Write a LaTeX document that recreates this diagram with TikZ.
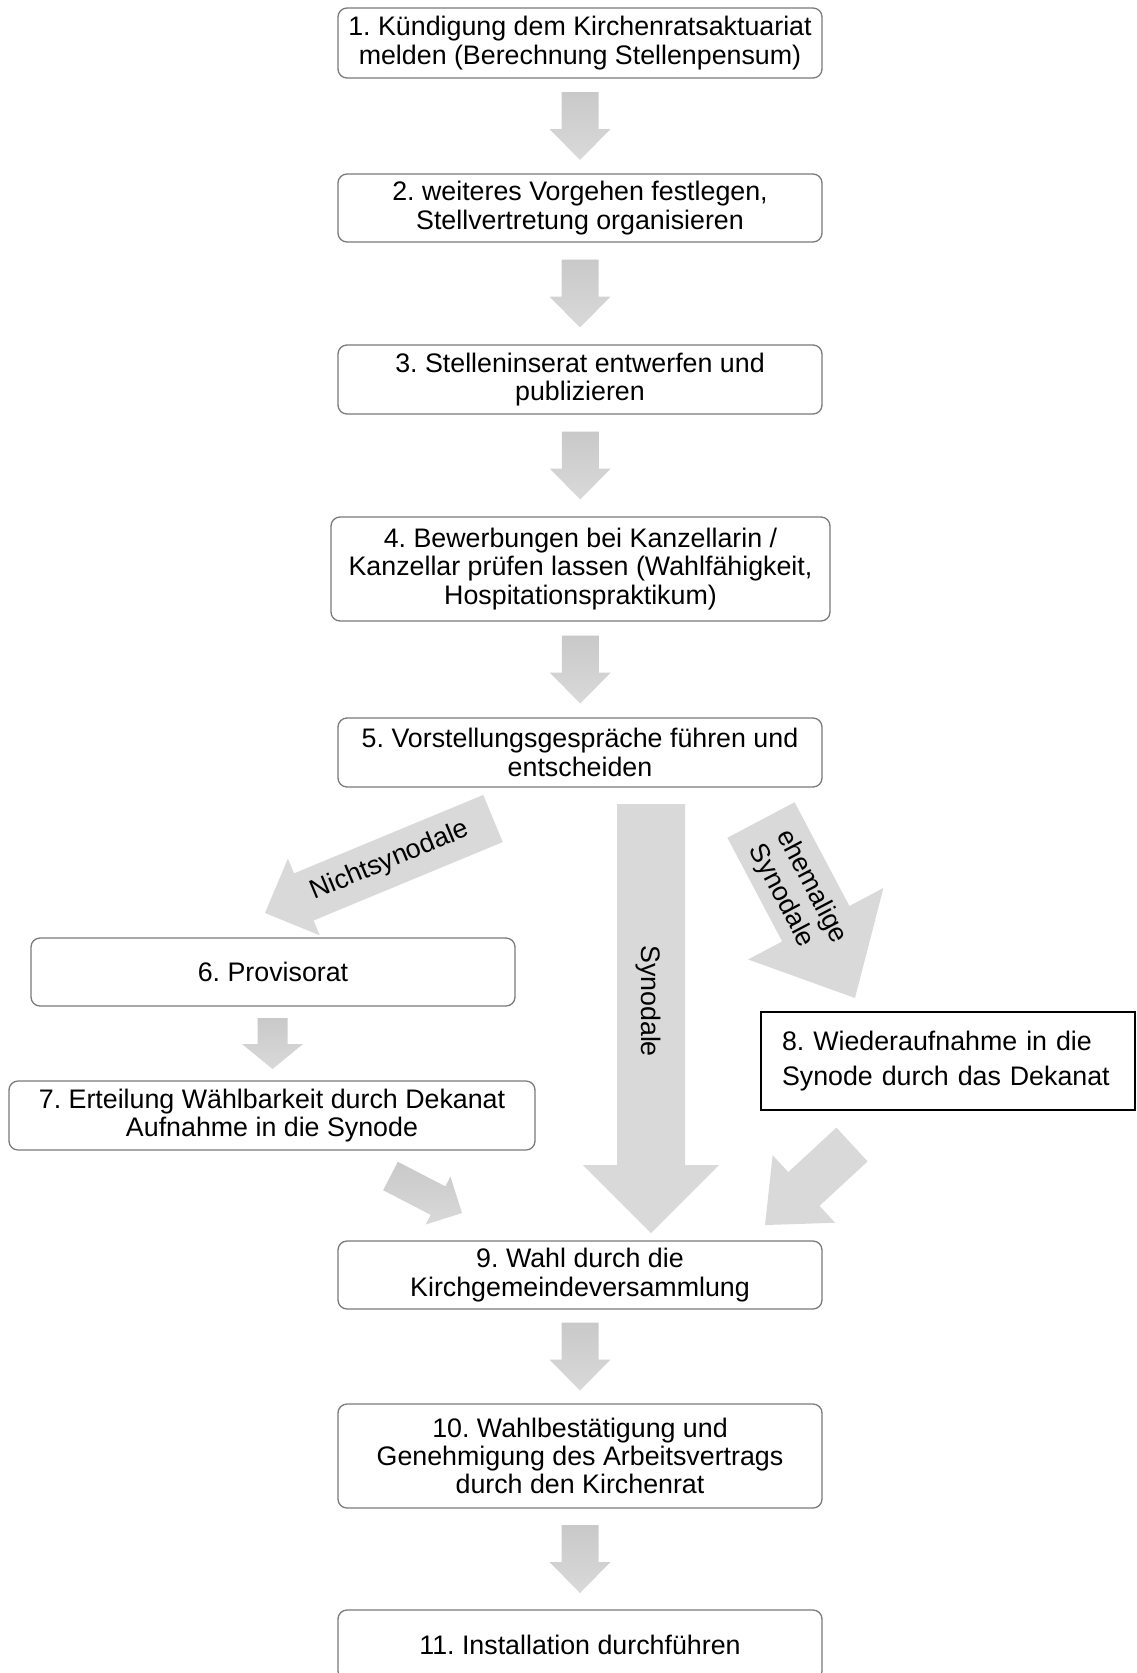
\documentclass[tikz,border=0pt]{standalone}
\usepackage{fontspec}
\setmainfont{Liberation Sans}
\usetikzlibrary{calc}
\definecolor{boxline}{HTML}{7A7A7A}
\definecolor{arrowtop}{HTML}{C9C9C9}
\definecolor{arrowbot}{HTML}{D9D9D9}
\definecolor{bigarrow}{HTML}{D9D9D9}
\frenchspacing

% block arrow: [style]{name}{from}{to}{shaft half width}{head half width}{head length}
\newcommand\blockarrow[7][]{%
  \coordinate (#2-h) at ($(#4)!#7pt!(#3)$);
  \path[#1] ($(#3)!#5pt!90:(#4)$) -- ($(#2-h)!#5pt!90:(#4)$) -- ($(#2-h)!#6pt!90:(#4)$)
    -- (#4) -- ($(#2-h)!#6pt!-90:(#4)$) -- ($(#2-h)!#5pt!-90:(#4)$) -- ($(#3)!#5pt!-90:(#4)$) -- cycle;
}
% vertical step arrow between two boxes: {from}{to}{name}{half length}{shaft half}{head half}{head length}
\newcommand\vstep[7]{%
  \coordinate (#3-m) at ($(#1.south)!0.5!(#2.north)$);
  \coordinate (#3-s) at ($(#3-m)+(0,-#4)$);
  \coordinate (#3-e) at ($(#3-m)+(0,#4)$);
  \blockarrow[smallarrow]{#3}{#3-s}{#3-e}{#5}{#6}{#7}
}

\begin{document}
\frenchspacing
\begin{tikzpicture}[x=1pt,y=-1pt,
  stepbox/.style={draw=boxline, line width=1.3pt, rounded corners=9pt, fill=white,
    align=center, inner sep=0pt, font=\fontsize{26.8pt}{28.3pt}\selectfont\frenchspacing},
  smallarrow/.style={top color=arrowtop, bottom color=arrowbot, draw=none},
  bigarrowstyle/.style={fill=bigarrow, draw=none},
  lbl/.style={font=\fontsize{26.8pt}{31pt}\selectfont, inner sep=0pt}]

\clip (0,0) rectangle (1136,1673);
\fill[white] (0,0) rectangle (1136,1673);

% boxes
\node[stepbox, minimum width=484pt, minimum height=70pt] (b1) at (580,43)
  {1. Kündigung dem Kirchenratsaktuariat\\melden (Berechnung Stellenpensum)};
\node[stepbox, minimum width=484pt, minimum height=68pt] (b2) at (580,208)
  {2. weiteres Vorgehen festlegen,\\Stellvertretung organisieren};
\node[stepbox, minimum width=484pt, minimum height=69pt] (b3) at (580,379.5)
  {3. Stelleninserat entwerfen und\\publizieren};
\node[stepbox, minimum width=499pt, minimum height=104pt] (b4) at (580.5,569)
  {4. Bewerbungen bei Kanzellarin /\\Kanzellar prüfen lassen (Wahlfähigkeit,\\Hospitationspraktikum)};
\node[stepbox, minimum width=484pt, minimum height=69pt] (b5) at (580,752.5)
  {5. Vorstellungsgespräche führen und\\entscheiden};
\node[stepbox, minimum width=484pt, minimum height=68pt] (b6) at (273,972)
  {6. Provisorat};
\node[stepbox, minimum width=526pt, minimum height=69pt] (b7) at (272,1115.5)
  {7. Erteilung Wählbarkeit durch Dekanat\\Aufnahme in die Synode};
\node[draw=black, line width=1.5pt, minimum width=374pt, minimum height=98pt,
  text width=332pt, inner xsep=21pt, inner ysep=0pt, align=left,
  font=\fontsize{26.8pt}{35pt}\selectfont\frenchspacing] (b8) at (948,1061)
  {8. Wiederaufnahme in die\\Synode durch das Dekanat};
\node[stepbox, minimum width=484pt, minimum height=68pt] (b9) at (580,1275)
  {9. Wahl durch die\\Kirchgemeindeversammlung};
\node[stepbox, minimum width=484pt, minimum height=104pt] (b10) at (580,1456)
  {10. Wahlbestätigung und\\Genehmigung des Arbeitsvertrags\\durch den Kirchenrat};
\node[stepbox, minimum width=484pt, minimum height=70pt] (b11) at (580,1645)
  {11. Installation durchführen};

% small step arrows
\vstep{b1}{b2}{a12}{34}{18.5}{30.5}{31}
\vstep{b2}{b3}{a23}{34}{18.5}{30.5}{31}
\vstep{b3}{b4}{a34}{34}{18.5}{30.5}{31}
\vstep{b4}{b5}{a45}{34}{18.5}{30.5}{31}
\vstep{b6}{b7}{a67}{25.5}{15}{30.5}{25}
\vstep{b9}{b10}{a910}{34}{18.5}{30.5}{31}
\vstep{b10}{b11}{a1011}{34}{18.5}{30.5}{31}

% branching arrows
\coordinate (ns-s) at (493,818.5);
\coordinate (ns-e) at (265,913);
\blockarrow[bigarrowstyle]{ns}{ns-s}{ns-e}{25.5}{41.5}{42}
\coordinate (sy-s) at (651,804);
\coordinate (sy-e) at (651,1233);
\blockarrow[bigarrowstyle]{sy}{sy-s}{sy-e}{34}{68}{68}
\coordinate (eh-s) at (761,820);
\coordinate (eh-e) at (855,998);
\blockarrow[bigarrowstyle]{eh}{eh-s}{eh-e}{38}{76.5}{84}
\coordinate (s79-s) at (390.5,1176);
\coordinate (s79-e) at (462,1213);
\blockarrow[smallarrow]{s79}{s79-s}{s79-e}{16}{27}{27}
\coordinate (s89-s) at (852,1144.5);
\coordinate (s89-e) at (765,1225);
\blockarrow[bigarrowstyle]{s89}{s89-s}{s89-e}{23}{46}{53}

% arrow labels
\node[lbl, rotate=22.6] (lns) at (390,861) {Nichtsynodale};
\node[lbl, rotate=-90] (lsy) at (648,1001) {Synodale};
\node[lbl, rotate=-62.2, align=left] (leh) at (797.5,894) {ehemalige\\Synodale};
\end{tikzpicture}
\end{document}
